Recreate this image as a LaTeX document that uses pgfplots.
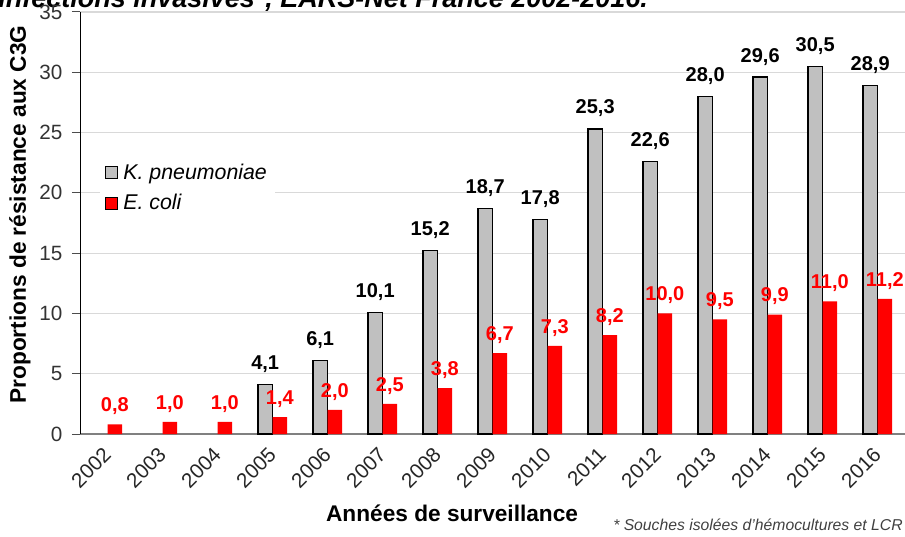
\documentclass[border=0pt]{standalone}
\usepackage{fontspec}
\setmainfont{Liberation Sans}
\usepackage{pgfplots}
\pgfplotsset{compat=1.18}
\definecolor{kgrey}{HTML}{C0C0C0}
\definecolor{gridc}{HTML}{D9D9D9}
\begin{document}
\begin{tikzpicture}[x=0.75pt,y=0.75pt]
\useasboundingbox (0,0) rectangle (905,536);
\clip (0,0) rectangle (905,536);
\node[anchor=base west, inner sep=0pt, font=\bfseries\itshape\fontsize{20.25}{24}\selectfont] at (-2,528) {infections invasives*, EARS-Net France 2002-2016.};
\begin{axis}[
  at={(60pt,76.5pt)}, anchor=south west,
  scale only axis, width=618.75pt, height=316.5pt,
  xmin=-0.5, xmax=14.5, ymin=0, ymax=35,
  clip=false,
  ybar=0pt, bar width=11pt,
  axis x line*=bottom, axis y line*=left,
  x axis line style={draw=black!50, line width=1pt},
  y axis line style={draw=black, line width=0.75pt},
  tick align=outside, major tick length=6pt,
  tick style={draw=black!70, line width=0.75pt},
  xtick={0,1,...,14},
  xticklabels={2002,2003,2004,2005,2006,2007,2008,2009,2010,2011,2012,2013,2014,2015,2016},
  xtick style={draw=none},
  extra x ticks={-0.5,0.5,...,14.5},
  extra x tick labels={},
  extra x tick style={tick style={draw=black!70, line width=0.75pt}},
  xticklabel style={rotate=45, anchor=east, inner sep=0pt, font=\fontsize{15.5}{18}\selectfont, text=black!85},
  xticklabel shift=7pt,
  ytick={0,5,...,35},
  yticklabel style={inner sep=0pt, font=\fontsize{15.5}{18}\selectfont, text=black!80},
  yticklabel shift=7pt,
  /pgf/number format/assume math mode=true,
  ymajorgrids, grid style={draw=gridc, line width=0.9pt},
  ylabel={Proportions de résistance aux C3G},
  ylabel style={at={(axis description cs:-0.0727,0.52)}, anchor=center, font=\bfseries\fontsize{17}{20}\selectfont},
  xlabel={Années de surveillance},
  xlabel style={at={(axis description cs:0.451,-0.187)}, anchor=center, font=\bfseries\fontsize{17}{20}\selectfont},
  legend cell align=left,
  legend image code/.code={\draw[#1, line width=0.8pt] (0pt,-4.5pt) rectangle (9pt,4.5pt); \path (11pt,0pt);},
  legend style={at={(axis cs:-0.15,23.0)}, anchor=north west, draw=none, fill=white,
    font=\itshape\fontsize{16}{19}\selectfont, row sep=6pt, inner xsep=4pt, inner ysep=3pt},
  nodes near coords={\pgfmathprintnumber[fixed,fixed zerofill,precision=1,use comma,assume math mode=true]{\pgfplotspointmeta}},
]
\addplot[fill=kgrey, draw=black, line width=1pt,
  every node near coord/.append style={font=\bfseries\fontsize{15}{18}\selectfont, text=black, anchor=south, inner sep=0pt, yshift=8.5pt}]
  coordinates {(3,4.1) (4,6.1) (5,10.1) (6,15.2) (7,18.7) (8,17.8) (9,25.3) (10,22.6) (11,28.0) (12,29.6) (13,30.5) (14,28.9)};
\addlegendentry{K. pneumoniae}
\addplot[fill=red, draw=none,
  every node near coord/.append style={font=\bfseries\fontsize{15}{18}\selectfont, text=red, anchor=south, inner sep=0pt, yshift=7pt}]
  coordinates {(0,0.8) (1,1.0) (2,1.0) (3,1.4) (4,2.0) (5,2.5) (6,3.8) (7,6.7) (8,7.3) (9,8.2) (10,10.0) (11,9.5) (12,9.9) (13,11.0) (14,11.2)};
\addlegendentry{E. coli}
\end{axis}
\node[anchor=base east, inner sep=0pt, font=\itshape\fontsize{11.8}{14}\selectfont, text=black!75] at (903,6) {* Souches isolées d'hémocultures et LCR};
\end{tikzpicture}
\end{document}
